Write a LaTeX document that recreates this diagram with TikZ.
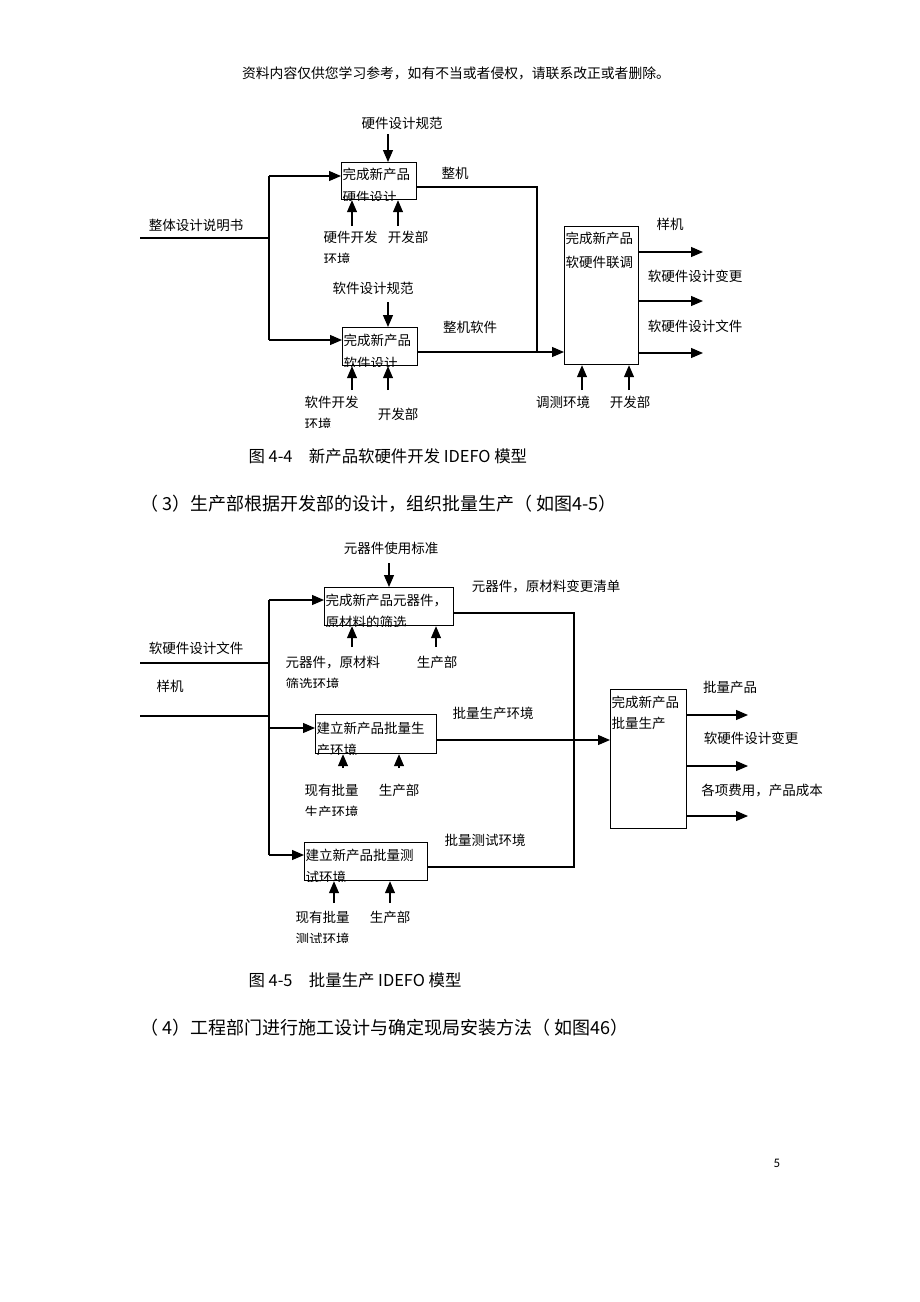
\documentclass[tikz,border=0pt]{standalone}
\usepackage{fontspec}
\setmainfont{Noto Sans CJK SC}
\newfontfamily\pgnum{Carlito}
\usetikzlibrary{arrows.meta}

\begin{document}
\begin{tikzpicture}[x=1pt,y=-1pt,>={Triangle[length=12pt,width=10pt]},line width=1.2pt,
  fn/.style={draw,anchor=north west,inner sep=0pt},
  lbl/.style={font=\fontsize{13.5}{16}\selectfont,inner sep=0pt},
  ln/.style={lbl,anchor=base west},
  figcap/.style={font=\fontsize{16.4}{18}\selectfont,inner sep=0pt,anchor=base west},
  para/.style={font=\fontsize{18}{20}\selectfont,inner sep=0pt,anchor=base west}]
\fill[white] (0,0) rectangle (920,1302);
\useasboundingbox (0,0) rectangle (920,1302);

\node[font=\fontsize{13.8}{15}\selectfont,inner sep=0pt] (hdr) at (456,73) {资料内容仅供您学习参考，如有不当或者侵权，请联系改正或者删除。};

\node[fn,minimum width=75pt,minimum height=37pt] (hw) at (341,162) {};
\node[fn,minimum width=75pt,minimum height=38pt] (sw) at (342,327) {};
\node[fn,minimum width=74pt,minimum height=138pt] (tune) at (564,226) {};
\begin{scope}
  \clip (hw.north west) rectangle (hw.south east);
  \node[ln] (hwt1) at (342,179) {完成新产品};
  \node[ln] (hwt2) at (342,202) {硬件设计};
\end{scope}
\begin{scope}
  \clip (sw.north west) rectangle (sw.south east);
  \node[ln] (swt1) at (343,345) {完成新产品};
  \node[ln] (swt2) at (343,368) {软件设计};
\end{scope}
\node[ln] (tunet1) at (565,243) {完成新产品};
\node[ln] (tunet2) at (565,267) {软硬件联调};

\node[lbl] (hwspec) at (402,123) {硬件设计规范};
\node[lbl] (swspec) at (373,288) {软件设计规范};
\node[lbl] (doc) at (196,225) {整体设计说明书};
\node[ln] (hwenv) at (323,242) {硬件开发};
\begin{scope}
  \clip (318,248) rectangle (362,262);
  \node[ln] (hwenv2) at (323,264.5) {环境};
\end{scope}
\node[lbl] (hwdep) at (408,237) {开发部};
\node[lbl] (whole) at (455,173) {整机};
\node[ln] (swenv) at (304,407) {软件开发};
\begin{scope}
  \clip (300,413) rectangle (344,427);
  \node[ln] (swenv2) at (304,429.5) {环境};
\end{scope}
\node[lbl] (swdep) at (398,414) {开发部};
\node[lbl] (wholesw) at (470,327) {整机软件};
\node[lbl] (sample) at (670,224) {样机};
\node[lbl] (chg) at (695,276) {软硬件设计变更};
\node[lbl] (files) at (695,326) {软硬件设计文件};
\node[lbl] (testenv) at (563,402) {调测环境};
\node[lbl] (tunedep) at (630,402) {开发部};

\coordinate (docin) at (140,238);
\coordinate (split) at (269,238);
\coordinate (hwin) at (269,176);
\coordinate (swin) at (269,340);
\draw (docin) -- (split);
\draw (hwin) -- (swin);
\path[->] (hwin) edge (hwin -| hw.west)
          (swin) edge (swin -| sw.west);

\coordinate (hwc) at (388,134);
\coordinate (swc) at (388,302);
\coordinate (hwm1) at (352,226);
\coordinate (hwm2) at (398,226);
\coordinate (swm1) at (352,390);
\coordinate (swm2) at (388,390);
\coordinate (tm1) at (582,390);
\coordinate (tm2) at (629,390);
\path[->] (hwc) edge (hwc |- hw.north)
          (swc) edge (swc |- sw.north)
          (hwm1) edge (hwm1 |- hw.south)
          (hwm2) edge (hwm2 |- hw.south)
          (swm1) edge (swm1 |- sw.south)
          (swm2) edge (swm2 |- sw.south)
          (tm1) edge (tm1 |- tune.south)
          (tm2) edge (tm2 |- tune.south);

\coordinate (join) at (537,187);
\coordinate (swout) at (537,352);
\draw (join -| hw.east) -- (join) -- (swout);
\path[->] (swout -| sw.east) edge (swout -| tune.west);

\coordinate (to1) at (703,252);
\coordinate (to2) at (703,301);
\coordinate (to3) at (703,353);
\path[->] (to1 -| tune.east) edge (to1)
          (to2 -| tune.east) edge (to2)
          (to3 -| tune.east) edge (to3);

\node[figcap] (cap44) at (248,462.5) {图 4-4\quad 新产品软硬件开发 IDEFO 模型};
\node[para] (para3) at (140,510) {（ 3）生产部根据开发部的设计，组织批量生产（ 如图4-5）};

\node[fn,minimum width=129pt,minimum height=38pt] (parts) at (324,587) {};
\node[fn,minimum width=121pt,minimum height=39pt] (prod) at (315,714) {};
\node[fn,minimum width=123pt,minimum height=38pt] (test) at (304,842) {};
\node[fn,minimum width=76pt,minimum height=139pt] (batch) at (610,689) {};
\begin{scope}
  \clip (parts.north west) rectangle (parts.south east);
  \node[ln] (partst1) at (325,605) {完成新产品元器件，};
  \node[ln] (partst2) at (325,627) {原材料的筛选};
\end{scope}
\begin{scope}
  \clip (prod.north west) rectangle (prod.south east);
  \node[ln] (prodt1) at (316,733) {建立新产品批量生};
  \node[ln] (prodt2) at (316,755) {产环境};
\end{scope}
\begin{scope}
  \clip (test.north west) rectangle (test.south east);
  \node[ln] (testt1) at (305,860) {建立新产品批量测};
  \node[ln] (testt2) at (305,882) {试环境};
\end{scope}
\node[ln] (batcht1) at (611,707) {完成新产品};
\node[ln] (batcht2) at (611,728) {批量生产};

\node[lbl] (std) at (391,548) {元器件使用标准};
\node[lbl] (files2) at (196,648) {软硬件设计文件};
\node[lbl] (sample2) at (170,686) {样机};
\node[ln] (partsenv) at (285,667) {元器件，原材料};
\begin{scope}
  \clip (280,674) rectangle (345,687);
  \node[ln] (partsenv2) at (285,689) {筛选环境};
\end{scope}
\node[lbl] (partsdep) at (437,662) {生产部};
\node[lbl] (partsout) at (546,586) {元器件，原材料变更清单};
\node[ln] (prodenv) at (304,795) {现有批量};
\begin{scope}
  \clip (300,802) rectangle (362,815);
  \node[ln] (prodenv2) at (304,817) {生产环境};
\end{scope}
\node[lbl] (proddep) at (399,790) {生产部};
\node[lbl] (prodout) at (493,713) {批量生产环境};
\node[ln] (testenv1) at (295,922) {现有批量};
\begin{scope}
  \clip (290,929) rectangle (352,942);
  \node[ln] (testenv2) at (295,944) {测试环境};
\end{scope}
\node[lbl] (testdep) at (390,917) {生产部};
\node[lbl] (testout) at (485,840) {批量测试环境};
\node[lbl] (bout1) at (730,687) {批量产品};
\node[lbl] (bout2) at (751,738) {软硬件设计变更};
\node[lbl] (bout3) at (762,790) {各项费用，产品成本};

\coordinate (filesin) at (140,663);
\coordinate (samplein) at (140,716);
\coordinate (partsin) at (269,600);
\coordinate (prodin) at (269,728);
\coordinate (testin) at (269,855);
\draw (filesin) -- (filesin -| partsin);
\draw (samplein) -- (samplein -| partsin);
\draw (partsin) -- (testin);
\path[->] (partsin) edge (partsin -| parts.west)
          (prodin) edge (prodin -| prod.west)
          (testin) edge (testin -| test.west);

\coordinate (pc) at (389,563);
\coordinate (pm1) at (352,647);
\coordinate (pm2) at (436,647);
\coordinate (rm1) at (343,768);
\coordinate (rm2) at (399,768);
\coordinate (sm1) at (334,903);
\coordinate (sm2) at (390,903);
\coordinate (bm) at (610,740);
\path[->] (pc) edge (pc |- parts.north)
          (pm1) edge (pm1 |- parts.south)
          (pm2) edge (pm2 |- parts.south)
          (rm1) edge (rm1 |- prod.south)
          (rm2) edge (rm2 |- prod.south)
          (sm1) edge (sm1 |- test.south)
          (sm2) edge (sm2 |- test.south);

\coordinate (ptop) at (574,613);
\coordinate (pbot) at (574,867);
\draw (ptop -| parts.east) -- (ptop) -- (pbot) -- (pbot -| test.east);
\path[->] (bm -| prod.east) edge (bm);

\coordinate (bo1) at (748,715);
\coordinate (bo2) at (748,766);
\coordinate (bo3) at (748,816);
\path[->] (bo1 -| batch.east) edge (bo1)
          (bo2 -| batch.east) edge (bo2)
          (bo3 -| batch.east) edge (bo3);

\node[figcap] (cap45) at (248,986.5) {图 4-5\quad 批量生产 IDEFO 模型};
\node[para] (para4) at (140,1034) {（ 4）工程部门进行施工设计与确定现局安装方法（ 如图46）};
\node[font=\pgnum\fontsize{13}{15}\selectfont,inner sep=0pt] (pg) at (777,1163) {5};
\end{tikzpicture}
\end{document}
